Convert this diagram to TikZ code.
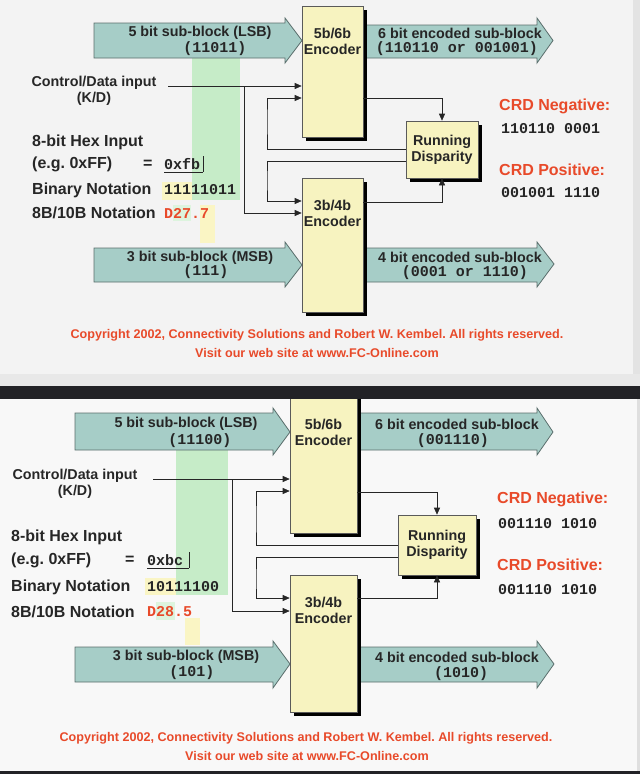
\documentclass[tikz,border=0pt]{standalone}
\usepackage{fontspec}
\setmainfont{Liberation Sans}
\setmonofont{Liberation Mono}
\usetikzlibrary{arrows.meta,shadows}
\definecolor{arrfill}{RGB}{166,205,199}
\definecolor{arrline}{RGB}{90,110,108}
\definecolor{boxfill}{RGB}{247,243,192}
\definecolor{boxline}{RGB}{90,90,90}
\definecolor{crdred}{RGB}{232,74,42}
\definecolor{lsbgreen}{RGB}{198,236,200}
\definecolor{msbyellow}{RGB}{250,245,196}
\definecolor{inkgray}{RGB}{38,38,38}
\definecolor{slidetop}{RGB}{243,243,243}
\definecolor{slidebot}{RGB}{248,248,248}
\definecolor{gapdark}{RGB}{34,34,38}
\frenchspacing
\begin{document}
\begin{tikzpicture}[x=1pt,y=-1pt,>={Triangle[length=7pt,width=6pt]},
    fatarrow/.style={fill=arrfill,draw=arrline,line width=0.8pt},
    coder/.style={draw=boxline,fill=boxfill,line width=0.6pt,inner sep=0pt,
        drop shadow={shadow xshift=4pt,shadow yshift=-4pt,fill=black,opacity=1}},
    wire/.style={draw=inkgray,line width=0.6pt},
    lbl/.style={font=\bfseries\fontsize{14.3}{16}\selectfont,text=inkgray,inner sep=0pt,align=center},
    big/.style={font=\bfseries\fontsize{16}{18}\selectfont,text=inkgray,inner sep=0pt,anchor=west},
    code/.style={font=\ttfamily\bfseries\fontsize{15}{17}\selectfont,text=inkgray,inner sep=0pt},
    crd/.style={font=\bfseries\fontsize{16}{18}\selectfont,text=crdred,inner sep=0pt,anchor=west},
    note/.style={font=\bfseries\fontsize{12.6}{14}\selectfont,text=crdred,inner sep=0pt}]
    \useasboundingbox (0,0) rectangle (640,774);
    % two captured slides
    \fill[slidetop] (0,0) rectangle (640,386);
    \fill[gray!18] (0,374) rectangle (640,386);
    \fill[gray!22] (633,0) rectangle (640,374);
    \fill[slidebot] (0,399) rectangle (640,774);
    \fill[gray!25] (637,399) rectangle (640,774);
    \fill[gapdark] (0,771) rectangle (640,774);

    % ---- first slide: 0xfb
    \begin{scope}[name prefix=top-]
        \fill[lsbgreen] (192,58) rectangle (240,200);
        \fill[msbyellow] (162,182) rectangle (192,200);
        \fill[lsbgreen!60] (173,205) rectangle (191,221);
        \fill[msbyellow] (200,205) rectangle (215,243);
        \draw[fatarrow] (94,23) -- (285,23) -- (285,18) -- (302,40.5) -- (285,63) -- (285,58) -- (94,58) -- cycle;
        \draw[fatarrow] (94,248) -- (285,248) -- (285,242) -- (302,265) -- (285,287) -- (285,282) -- (94,282) -- cycle;
        \draw[fatarrow] (363,25) -- (537,25) -- (537,18) -- (553,40.5) -- (537,63) -- (537,58) -- (363,58) -- cycle;
        \draw[fatarrow] (363,248) -- (537,248) -- (537,242) -- (554,264) -- (537,287) -- (537,282) -- (363,282) -- cycle;
        \node[coder,minimum width=61pt,minimum height=131pt] (enc5) at (332.5,71.5) {};
        \node[coder,minimum width=61pt,minimum height=134pt] (enc3) at (332.5,245) {};
        \node[coder,lbl,minimum width=72pt,minimum height=57pt] (rd) at (442,149.5) {Running\\Disparity};
        \coordinate (kd) at (168,86);
        \draw[wire,->] (kd) -- (kd -| enc5.west);
        \draw[wire,->] (kd -| 244,0) |- (enc3.west |- 0,213);
        \draw[wire,->] (enc5.east |- 0,98) -| (rd.north);
        \draw[wire,->] (rd.west |- 0,149) -| (267,120) |- (enc5.west |- 0,98);
        \draw[wire,->] (rd.west |- 0,161) -| (267,180) |- (enc3.west |- 0,201);
        \draw[wire,->] (enc3.east |- 0,202) -| (rd.south);
        \node[lbl] (enc5txt) at (332.5,41) {5b/6b\\Encoder};
        \node[lbl] (enc3txt) at (332.5,213.5) {3b/4b\\Encoder};
        \node[lbl] (lsbname) at (200,33) {5 bit sub-block (LSB)};
        \node[code] (lsbbits) at (215,49) {(11011)};
        \node[lbl] (msbname) at (200,258) {3 bit sub-block (MSB)};
        \node[code] (msbbits) at (206,272) {(111)};
        \node[lbl] (sixname) at (460,33) {6 bit encoded sub-block};
        \node[code] (sixbits) at (457,49) {(110110 or 001001)};
        \node[lbl] (fourname) at (460,257) {4 bit encoded sub-block};
        \node[code] (fourbits) at (465,273) {(0001 or 1110)};
        \node[lbl] (kdtxt) at (94,90.5) {Control/Data input\\(K/D)};
        \node[big] (hexname) at (32,142) {8-bit Hex Input};
        \node[big] (hexeg) at (32,164) {(e.g. 0xFF)};
        \node[big] (hexeq) at (143,164) {=};
        \node[code,anchor=west] (hexval) at (164,164) {0xfb};
        \draw[inkgray,line width=0.6pt] (164,172) -- (203,172) (203,156) -- (203,172);
        \node[big] (binname) at (32,190) {Binary Notation};
        \node[code,anchor=west] (binval) at (164,190) {11111011};
        \node[big] (codename) at (32,213) {8B/10B Notation};
        \node[code,anchor=west,text=crdred] (codeval) at (164,213) {D27.7};
        \node[crd] (negname) at (499,106) {CRD Negative:};
        \node[code,anchor=west] (negval) at (501,129) {110110 0001};
        \node[crd] (posname) at (499,170) {CRD Positive:};
        \node[code,anchor=west] (posval) at (501,193) {001001 1110};
        \node[note] (copy) at (317,335) {Copyright 2002, Connectivity Solutions and Robert W. Kembel. All rights reserved.};
        \node[note] (visit) at (317,353) {Visit our web site at www.FC-Online.com};
    \end{scope}

    % ---- second slide: 0xbc
    \begin{scope}[name prefix=bot-]
        \fill[lsbgreen] (176,450) rectangle (228,595);
        \fill[msbyellow] (145,578) rectangle (176,595);
        \fill[lsbgreen!60] (156,602) rectangle (175,620);
        \fill[msbyellow] (185,618) rectangle (200,645);
        \draw[fatarrow] (75,413) -- (273,413) -- (273,408) -- (290,432) -- (273,455) -- (273,450) -- (75,450) -- cycle;
        \draw[fatarrow] (75,647) -- (273,647) -- (273,641) -- (290,664) -- (273,688) -- (273,682) -- (75,682) -- cycle;
        \draw[fatarrow] (357,413) -- (537,413) -- (537,408) -- (553,432) -- (537,455) -- (537,450) -- (357,450) -- cycle;
        \draw[fatarrow] (357,647) -- (537,647) -- (537,641) -- (554,664) -- (537,688) -- (537,682) -- (357,682) -- cycle;
        \node[coder,minimum width=67pt,minimum height=141pt] (enc5) at (323.5,462.5) {};
        \node[coder,minimum width=67pt,minimum height=137pt] (enc3) at (323.5,643.5) {};
        \node[coder,lbl,minimum width=78pt,minimum height=60pt] (rd) at (437,545) {Running\\Disparity};
        \coordinate (kd) at (153,479);
        \draw[wire,->] (kd) -- (kd -| enc5.west);
        \draw[wire,->] (kd -| 232,0) |- (enc3.west |- 0,611);
        \draw[wire,->] (enc5.east |- 0,492) -| (rd.north);
        \draw[wire,->] (rd.west |- 0,545) -| (256,520) |- (enc5.west |- 0,491);
        \draw[wire,->] (rd.west |- 0,557) -| (256,580) |- (enc3.west |- 0,598);
        \draw[wire,->] (enc3.east |- 0,598) -| (rd.south);
        \node[lbl] (enc5txt) at (323.5,432) {5b/6b\\Encoder};
        \node[lbl] (enc3txt) at (323.5,610.5) {3b/4b\\Encoder};
        \node[lbl] (lsbname) at (186,424) {5 bit sub-block (LSB)};
        \node[code] (lsbbits) at (200,441) {(11100)};
        \node[lbl] (msbname) at (186,657) {3 bit sub-block (MSB)};
        \node[code] (msbbits) at (192,673) {(101)};
        \node[lbl] (sixname) at (457,424) {6 bit encoded sub-block};
        \node[code] (sixbits) at (453,441) {(001110)};
        \node[lbl] (fourname) at (457,657) {4 bit encoded sub-block};
        \node[code] (fourbits) at (461,674) {(1010)};
        \node[lbl] (kdtxt) at (75,483.5) {Control/Data input\\(K/D)};
        \node[big] (hexname) at (11,537) {8-bit Hex Input};
        \node[big] (hexeg) at (11,560) {(e.g. 0xFF)};
        \node[big] (hexeq) at (125,560) {=};
        \node[code,anchor=west] (hexval) at (147,560) {0xbc};
        \draw[inkgray,line width=0.6pt] (147,568) -- (189,568) (189,552) -- (189,568);
        \node[big] (binname) at (11,587) {Binary Notation};
        \node[code,anchor=west] (binval) at (147,587) {10111100};
        \node[big] (codename) at (11,612) {8B/10B Notation};
        \node[code,anchor=west,text=crdred] (codeval) at (147,612) {D28.5};
        \node[crd] (negname) at (497,499) {CRD Negative:};
        \node[code,anchor=west] (negval) at (498,524) {001110 1010};
        \node[crd] (posname) at (497,565) {CRD Positive:};
        \node[code,anchor=west] (posval) at (498,590) {001110 1010};
        \node[note] (copy) at (306,738) {Copyright 2002, Connectivity Solutions and Robert W. Kembel. All rights reserved.};
        \node[note] (visit) at (307,756) {Visit our web site at www.FC-Online.com};
    \end{scope}

    % dark strip between the slides
    \fill[gapdark] (0,386) rectangle (640,399);
\end{tikzpicture}
\end{document}
